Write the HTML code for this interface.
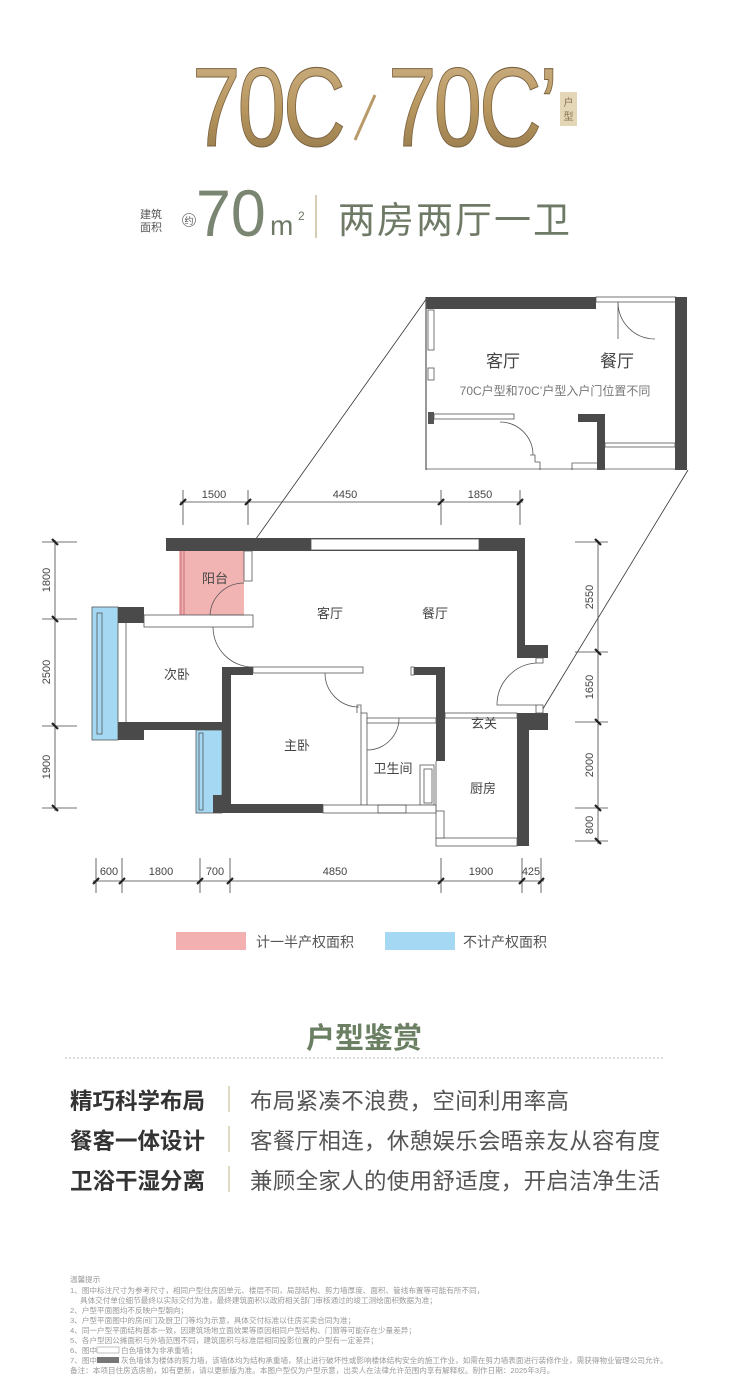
<!DOCTYPE html>
<html><head><meta charset="utf-8"><style>
html,body{margin:0;padding:0;background:#fff;}
svg{display:block}
text{font-family:"Liberation Sans","Noto Sans CJK SC",sans-serif;}
</style></head><body>
<svg width="729" height="1400" viewBox="0 0 729 1400" xmlns="http://www.w3.org/2000/svg">
<defs>
<linearGradient id="gold" x1="0" y1="0" x2="0" y2="1">
<stop offset="0" stop-color="#cfb48a"/><stop offset="0.5" stop-color="#b8975f"/><stop offset="1" stop-color="#8e7448"/>
</linearGradient>
</defs>
<g fill="url(#gold)" stroke="#7a6240" stroke-width="1">
<text x="192" y="146" font-size="112" transform="translate(192 0) scale(0.78 1) translate(-192 0)" font-family="Liberation Sans" letter-spacing="-4">70C</text>
<text x="388" y="146" font-size="112" transform="translate(388 0) scale(0.78 1) translate(-388 0)" font-family="Liberation Sans" letter-spacing="-4">70C’</text>
</g>
<line x1="375" y1="95" x2="355" y2="140" stroke="#b89a68" stroke-width="3"/>
<rect x="560" y="92" width="17" height="34" fill="#e3d7b8"/>
<text x="568.5" y="106" font-size="10" fill="#8a7350" text-anchor="middle">户</text>
<text x="568.5" y="120" font-size="10" fill="#8a7350" text-anchor="middle">型</text>
<text x="140" y="218" font-size="11" fill="#555">建筑</text>
<text x="140" y="231" font-size="11" fill="#555">面积</text>
<circle cx="189" cy="220" r="6.5" fill="none" stroke="#777" stroke-width="0.8"/>
<text x="189" y="224" font-size="9" fill="#555" text-anchor="middle">约</text>
<text x="196" y="236" font-size="66" fill="#7a8572" font-family="Liberation Sans" transform="translate(196 0) scale(0.95 1) translate(-196 0)">70</text>
<text x="270" y="235" font-size="28" fill="#6e7a66">m</text>
<text x="298" y="220" font-size="12" fill="#6e7a66">2</text>
<line x1="316" y1="195" x2="316" y2="238" stroke="#c9bd9b" stroke-width="1.5"/>
<text x="338" y="233" font-size="37" fill="#6e7a66" letter-spacing="2">两房两厅一卫</text>

<line x1="248" y1="550" x2="427" y2="298" stroke="#333" stroke-width="0.8"/>
<line x1="541" y1="712" x2="688" y2="470" stroke="#333" stroke-width="0.8"/>

<g>
<rect x="426" y="297" width="262" height="173" fill="#fff"/>
<rect x="426" y="297" width="170" height="12" fill="#4a4a4a"/>
<rect x="596" y="297" width="80" height="5" fill="#fff" stroke="#555" stroke-width="0.8"/>
<rect x="675" y="297" width="12" height="173" fill="#4a4a4a"/>
<line x1="426" y1="297" x2="426" y2="470" stroke="#555" stroke-width="1.2"/>
<rect x="428" y="310" width="6" height="40" fill="#fff" stroke="#555" stroke-width="0.8"/>
<rect x="428" y="368" width="6" height="12" fill="#fff" stroke="#555" stroke-width="0.8"/>
<rect x="428" y="412" width="6" height="12" fill="#555"/>
<rect x="434" y="414" width="80" height="5" fill="#fff" stroke="#555" stroke-width="0.8"/>
<path d="M618 302 L618 339 M618 302 A37 37 0 0 0 655 339" fill="none" stroke="#555" stroke-width="0.8"/>
<path d="M500 422 A33 33 0 0 1 533 455" fill="none" stroke="#555" stroke-width="0.8"/>
<rect x="578" y="414" width="26" height="8" fill="#4a4a4a"/>
<rect x="597" y="414" width="8" height="56" fill="#4a4a4a"/>
<rect x="605" y="443" width="70" height="4" fill="#fff" stroke="#555" stroke-width="0.8"/>
<line x1="426" y1="469" x2="675" y2="469" stroke="#555" stroke-width="0.8"/>
<path d="M530 455 L535 455 L535 462 L540 462 L540 470" fill="none" stroke="#555" stroke-width="0.8"/>
<path d="M572 470 L572 463 L597 463" fill="none" stroke="#555" stroke-width="0.8"/>
<text x="503" y="367" font-size="17" fill="#444" text-anchor="middle">客厅</text>
<text x="617" y="367" font-size="17" fill="#444" text-anchor="middle">餐厅</text>
<text x="555" y="395" font-size="12" fill="#777" text-anchor="middle">70C户型和70C’户型入户门位置不同</text>
</g>

<g stroke="#555" stroke-width="0.8">
<rect x="179" y="551" width="65" height="64" fill="#f2b3b3" stroke="none"/>
<line x1="181" y1="551" x2="181" y2="615" stroke="#b56" />
<line x1="184" y1="551" x2="184" y2="615" stroke="#b56" />
<rect x="92" y="607" width="26" height="133" fill="#a5d8f2"/>
<rect x="97" y="613" width="5" height="121" fill="none"/>
<rect x="196" y="730" width="26" height="83" fill="#a5d8f2"/>
<rect x="199" y="733" width="4" height="77" fill="none"/>
<rect x="166" y="538" width="359" height="13" fill="#4a4a4a" stroke="none"/>
<rect x="311" y="539" width="168" height="11" fill="#fff"/>
<rect x="517" y="538" width="8" height="120" fill="#4a4a4a" stroke="none"/>
<rect x="517" y="645" width="31" height="13" fill="#4a4a4a" stroke="none"/>
<rect x="536" y="658" width="7" height="5" fill="#fff"/>
<rect x="517" y="713" width="31" height="17" fill="#4a4a4a" stroke="none"/>
<rect x="517" y="730" width="12" height="116" fill="#4a4a4a" stroke="none"/>
<rect x="536" y="705" width="7" height="8" fill="#fff"/>
<path d="M536 663 A42 42 0 0 0 497 705 L536 705" fill="none"/>
<rect x="436" y="838" width="81" height="8" fill="#fff"/>
<rect x="436" y="811" width="8" height="27" fill="#fff"/>
<rect x="445" y="713" width="72" height="5" fill="#fff"/>
<rect x="436" y="667" width="9" height="94" fill="#4a4a4a" stroke="none"/>
<rect x="414" y="667" width="31" height="8" fill="#4a4a4a" stroke="none"/>
<rect x="411" y="667" width="3" height="8" fill="#fff"/>
<line x1="436" y1="761" x2="436" y2="811"/>
<rect x="361" y="713" width="6" height="92" fill="#fff"/>
<rect x="367" y="718" width="69" height="5" fill="#fff"/>
<path d="M367 750 A32 32 0 0 0 399 718" fill="none"/>
<rect x="420" y="765" width="14" height="40" fill="#fff"/>
<rect x="424" y="769" width="8" height="34" fill="none"/>
<path d="M357 713 L357 705 L361 705 L361 713" fill="none"/>
<rect x="253" y="667" width="110" height="6" fill="#fff"/>
<path d="M325 673 A34 34 0 0 0 359 707" fill="none"/>
<rect x="213" y="804" width="110" height="9" fill="#4a4a4a" stroke="none"/>
<rect x="323" y="805" width="113" height="8" fill="#fff"/>
<rect x="378" y="805" width="28" height="8" fill="none"/>
<rect x="222" y="667" width="9" height="138" fill="#4a4a4a" stroke="none"/>
<rect x="222" y="667" width="31" height="8" fill="#4a4a4a" stroke="none"/>
<rect x="213" y="795" width="9" height="18" fill="#4a4a4a" stroke="none"/>
<rect x="118" y="722" width="113" height="8" fill="#4a4a4a" stroke="none"/>
<rect x="118" y="722" width="26" height="18" fill="#4a4a4a" stroke="none"/>
<rect x="118" y="607" width="26" height="16" fill="#4a4a4a" stroke="none"/>
<rect x="144" y="615" width="109" height="12" fill="#fff"/>
<line x1="126" y1="623" x2="126" y2="722"/>
<path d="M213 627 A40 40 0 0 0 253 667" fill="none"/>
<rect x="244" y="551" width="8" height="30" fill="#fff"/>
<path d="M244 583 A34 34 0 0 0 210 615 L244 615" fill="none"/>
</g>
<g font-size="13" fill="#444" text-anchor="middle">
<text x="215" y="583">阳台</text>
<text x="330" y="618">客厅</text>
<text x="435" y="618">餐厅</text>
<text x="177" y="679">次卧</text>
<text x="297" y="750">主卧</text>
<text x="393" y="773">卫生间</text>
<text x="483" y="793">厨房</text>
<text x="484" y="728">玄关</text>
</g>
<g stroke="#444" stroke-width="0.8" fill="none">
<line x1="180" y1="502" x2="523" y2="502"/>
<line x1="183" y1="490" x2="183" y2="525"/><line x1="248" y1="490" x2="248" y2="525"/><line x1="441" y1="490" x2="441" y2="525"/><line x1="520" y1="490" x2="520" y2="525"/>
<line x1="55" y1="540" x2="55" y2="811"/>
<line x1="42" y1="542" x2="77" y2="542"/><line x1="42" y1="619" x2="77" y2="619"/><line x1="42" y1="726" x2="77" y2="726"/><line x1="42" y1="808" x2="77" y2="808"/>
<line x1="598" y1="540" x2="598" y2="844"/>
<line x1="575" y1="542" x2="608" y2="542"/><line x1="575" y1="652" x2="608" y2="652"/><line x1="575" y1="722" x2="608" y2="722"/><line x1="575" y1="808" x2="608" y2="808"/><line x1="575" y1="841" x2="608" y2="841"/>
<line x1="93" y1="881" x2="544" y2="881"/>
<line x1="96" y1="858" x2="96" y2="893"/><line x1="122" y1="858" x2="122" y2="893"/><line x1="200" y1="858" x2="200" y2="893"/><line x1="230" y1="858" x2="230" y2="893"/><line x1="441" y1="858" x2="441" y2="893"/><line x1="522" y1="858" x2="522" y2="893"/><line x1="541" y1="858" x2="541" y2="893"/>
</g>
<g stroke="#222" stroke-width="2.2">
<line x1="180" y1="505" x2="186" y2="499"/><line x1="245" y1="505" x2="251" y2="499"/><line x1="438" y1="505" x2="444" y2="499"/><line x1="517" y1="505" x2="523" y2="499"/>
<line x1="52" y1="539" x2="58" y2="545"/><line x1="52" y1="616" x2="58" y2="622"/><line x1="52" y1="723" x2="58" y2="729"/><line x1="52" y1="805" x2="58" y2="811"/>
<line x1="595" y1="539" x2="601" y2="545"/><line x1="595" y1="649" x2="601" y2="655"/><line x1="595" y1="719" x2="601" y2="725"/><line x1="595" y1="805" x2="601" y2="811"/><line x1="595" y1="838" x2="601" y2="844"/>
<line x1="93" y1="884" x2="99" y2="878"/><line x1="119" y1="884" x2="125" y2="878"/><line x1="197" y1="884" x2="203" y2="878"/><line x1="227" y1="884" x2="233" y2="878"/><line x1="438" y1="884" x2="444" y2="878"/><line x1="519" y1="884" x2="525" y2="878"/><line x1="538" y1="884" x2="544" y2="878"/>
</g>
<g font-size="11" fill="#444" text-anchor="middle">
<text x="214" y="498">1500</text><text x="345" y="498">4450</text><text x="480" y="498">1850</text>
<text x="109" y="875">600</text><text x="161" y="875">1800</text><text x="215" y="875">700</text><text x="335" y="875">4850</text><text x="481" y="875">1900</text><text x="531" y="875">425</text>
<text transform="translate(50 580) rotate(-90)">1800</text>
<text transform="translate(50 672) rotate(-90)">2500</text>
<text transform="translate(50 767) rotate(-90)">1900</text>
<text transform="translate(593 597) rotate(-90)">2550</text>
<text transform="translate(593 687) rotate(-90)">1650</text>
<text transform="translate(593 765) rotate(-90)">2000</text>
<text transform="translate(593 825) rotate(-90)">800</text>
</g>
<rect x="176" y="932" width="70" height="18" fill="#f2b0b0"/>
<text x="256" y="947" font-size="14" fill="#555">计一半产权面积</text>
<rect x="385" y="932" width="70" height="18" fill="#a5d8f2"/>
<text x="463" y="947" font-size="14" fill="#555">不计产权面积</text>
<text x="364" y="1048" font-size="29" fill="#6b7f63" text-anchor="middle" font-weight="bold">户型鉴赏</text>
<line x1="65" y1="1058" x2="665" y2="1058" stroke="#bbb" stroke-width="1" stroke-dasharray="2 2"/>
<g font-size="22.5" fill="#333" font-weight="bold">
<text x="70" y="1109">精巧科学布局</text>
<text x="70" y="1149">餐客一体设计</text>
<text x="70" y="1189">卫浴干湿分离</text>
</g>
<g stroke="#d6cfae" stroke-width="1.5">
<line x1="229" y1="1086" x2="229" y2="1112"/><line x1="229" y1="1126" x2="229" y2="1152"/><line x1="229" y1="1166" x2="229" y2="1192"/>
</g>
<g font-size="22.5" fill="#555" letter-spacing="0.3">
<text x="250" y="1109">布局紧凑不浪费，空间利用率高</text>
<text x="250" y="1149">客餐厅相连，休憩娱乐会晤亲友从容有度</text>
<text x="250" y="1189">兼顾全家人的使用舒适度，开启洁净生活</text>
</g>
<g font-size="7.6" fill="#999">
<text x="70" y="1282">温馨提示</text>
<text x="70" y="1293">1、图中标注尺寸为参考尺寸，相同户型住房因单元、楼层不同，局部结构、剪力墙厚度、面积、管线布置等可能有所不同，</text>
<text x="80" y="1303">具体交付单位细节最终以实际交付为准，最终建筑面积以政府相关部门审核通过的竣工测绘面积数据为准；</text>
<text x="70" y="1313">2、户型平面图均不反映户型朝向；</text>
<text x="70" y="1323">3、户型平面图中的房间门及厨卫门等均为示意，具体交付标准以住房买卖合同为准；</text>
<text x="70" y="1333">4、同一户型平面结构基本一致，因建筑场地立面效果等原因相同户型结构、门窗等可能存在少量差异；</text>
<text x="70" y="1343">5、各户型因公摊面积与外墙范围不同，建筑面积与标准层相同投影位置的户型有一定差异；</text>
<text x="70" y="1353">6、图中</text><rect x="97" y="1347" width="22" height="6" fill="#fff" stroke="#999" stroke-width="0.6"/><text x="121" y="1353">白色墙体为非承重墙；</text>
<text x="70" y="1363">7、图中</text><rect x="97" y="1357" width="22" height="6" fill="#777"/><text x="121" y="1363">灰色墙体为楼体的剪力墙，该墙体均为结构承重墙，禁止进行破坏性或影响楼体结构安全的施工作业，如需在剪力墙表面进行装修作业，需获得物业管理公司允许。</text>
<text x="70" y="1373">备注：本项目住房选房前，如有更新，请以更新版为准。本图户型仅为户型示意，出卖人在法律允许范围内享有解释权。制作日期：2025年3月。</text>
</g>
</svg>
</body></html>
